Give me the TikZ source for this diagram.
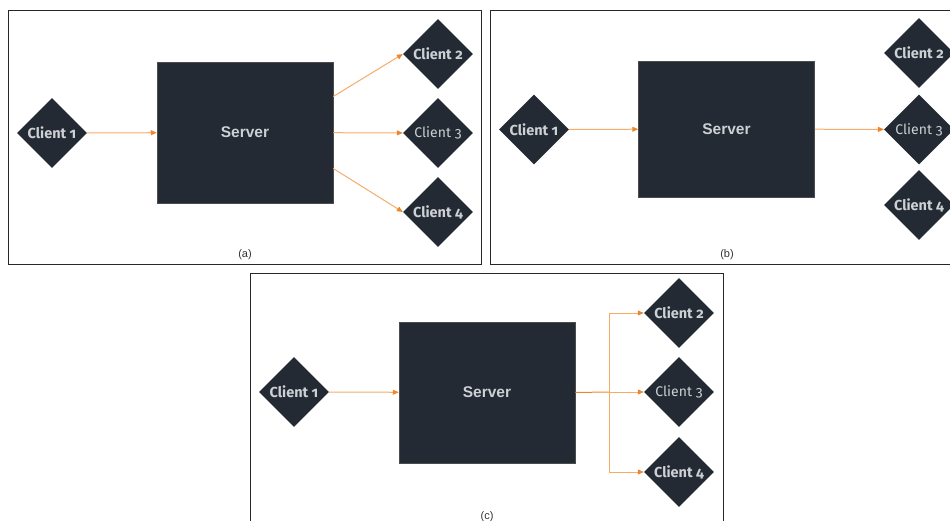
\documentclass[tikz,border=0pt]{standalone}
\usepackage{fontspec}
\setmainfont{Liberation Sans}
\newfontfamily\clientfont[Numbers=OldStyle]{Fira Sans}
\usetikzlibrary{positioning,shapes.geometric,arrows.meta,calc}
\definecolor{srvdark}{RGB}{35,42,51}
\definecolor{srvtext}{RGB}{205,208,212}
\definecolor{floworange}{RGB}{245,172,105}
\definecolor{tiporange}{RGB}{236,135,45}
\definecolor{framegray}{RGB}{40,40,40}
\tikzset{
  client/.style={diamond,fill=srvdark,draw=none,minimum width=70pt,minimum height=70pt,
    inner sep=0pt,text=srvtext,font=\clientfont\bfseries\fontsize{14.5}{15}\selectfont},
  client thin/.style={client,font=\clientfont\fontsize{14}{15}\selectfont},
  server/.style={rectangle,fill=srvdark,draw=black!70,line width=0.5pt,minimum width=176pt,
    minimum height=141pt,inner sep=0pt,text=srvtext,font=\bfseries\fontsize{15.5}{18}\selectfont},
  flow/.style={draw=floworange,line width=1pt,-{Triangle[length=6pt,width=5pt,color=tiporange]}},
  panel/.style={draw=framegray,line width=0.8pt},
  caption/.style={font=\fontsize{11}{13}\selectfont,text=black!80}
}
\begin{document}
\begin{tikzpicture}[x=1pt,y=-1pt]
  \useasboundingbox (0,0) rectangle (950,521);
  % --- (a) one client to all others ---
  \draw[panel] (8,10) rectangle (481,264);
  \node[client] (a1) at (52,133) {Client 1};
  \node[server] (as) at (245,132.5) {Server};
  \node[client] (a2) at (438,54) {Client 2};
  \node[client thin] (a3) at (438,133) {Client 3};
  \node[client] (a4) at (438,212) {Client 4};
  \node[caption] (acap) at (245,254.5) {(a)};
  \draw[flow] (a1) -- (as);
  \draw[flow] ([yshift=36pt]as.east) -- (a2.west);
  \draw[flow] (as) -- (a3);
  \draw[flow] ([yshift=-36pt]as.east) -- (a4.west);
  % --- (b) one client to one other ---
  \draw[panel] (490,10) rectangle (952,264);
  \node[client] (b1) at (534,129.5) {Client 1};
  \node[server,minimum height=136pt] (bs) at (726.5,129) {Server};
  \node[client] (b2) at (919,53) {Client 2};
  \node[client thin] (b3) at (919,129.5) {Client 3};
  \node[client] (b4) at (919,205) {Client 4};
  \node[caption] (bcap) at (727,254.5) {(b)};
  \draw[flow] (b1) -- (bs);
  \draw[flow] (bs) -- (b3);
  % --- (c) one client, split to all others ---
  \draw[panel] (250,273) rectangle (723,530);
  \node[client] (c1) at (294,392) {Client 1};
  \node[server] (cs) at (487,392.5) {Server};
  \node[client] (c2) at (679,313) {Client 2};
  \node[client thin] (c3) at (679,392) {Client 3};
  \node[client] (c4) at (679,472) {Client 4};
  \node[caption] (ccap) at (487,517) {(c)};
  \coordinate (csplit) at (609,392);
  \draw[flow] (c1) -- (cs);
  \draw[draw=tiporange,line width=1pt] (cs.east) -- (csplit);
  \draw[flow] (csplit) |- (c2.west);
  \draw[flow] (csplit) -- (c3.west);
  \draw[flow] (csplit) |- (c4.west);
\end{tikzpicture}
\end{document}
